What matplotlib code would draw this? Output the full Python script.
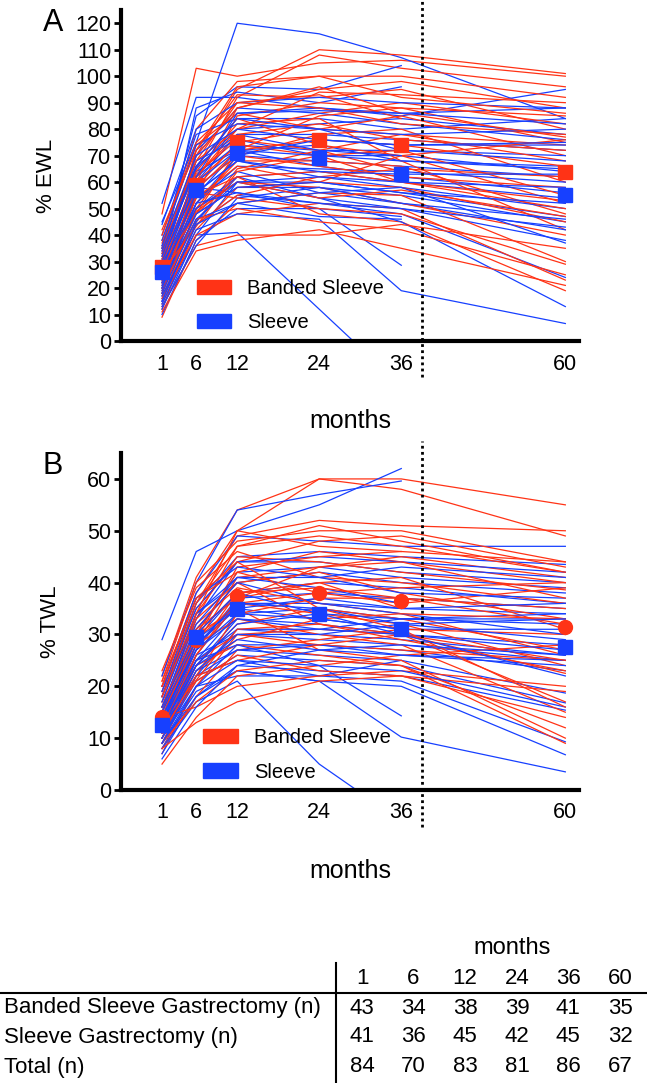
import numpy as np
import matplotlib.pyplot as plt
from matplotlib.patches import Patch
from matplotlib.lines import Line2D

plt.rcParams['font.family'] = ['Liberation Sans', 'DejaVu Sans']

months = [1, 6, 12, 24, 36, 60]
nan = np.nan

# % EWL, one row per patient: months 1, 6, 12, 24, 36, 60
ewl_banded = [
    [48, 103, 100, 105, 106, 100], [30, 70, 95, 110, 108, 101], [25, 65, 92, 108, 103, 96],
    [35, 80, 98, 100, 100, 92], [22, 60, 88, 95, 98, 88], [28, 72, 93, 92, 95, 80],
    [18, 55, 85, 90, 88, 75], [32, 68, 80, 86, 90, 82], [20, 58, 75, 80, 85, 70],
    [40, 75, 90, 88, 82, 78], [15, 50, 70, 78, 80, 60], [27, 62, 78, 82, 76, 72],
    [24, 57, 72, 76, 74, 66], [33, 66, 84, 74, 70, 52], [12, 45, 65, 72, 78, 68],
    [29, 60, 74, 70, 72, 55], [19, 52, 68, 68, 66, 48], [36, 64, 82, 84, 68, 42],
    [26, 58, 70, 66, 62, 58], [21, 48, 62, 64, 60, 50], [14, 42, 58, 60, 58, 45],
    [9, 38, 52, 56, 55, 30], [17, 44, 55, 62, 65, 62], [23, 50, 60, 58, 52, 40],
    [30, 63, 76, 72, 64, nan], [38, 74, 86, 80, 78, 74], [16, 40, 48, 52, 50, 23],
    [25, 55, 62, 48, 45, 19], [20, 46, 50, 45, 42, 25], [13, 36, 40, 40, 44, 35],
    [31, 62, 80, 94, 93, 90], [28, nan, 72, 85, 88, 85], [34, 70, 88, 96, 86, 77],
    [22, 54, 66, 60, 70, 76], [18, 49, 60, 54, 57, 47], [37, 68, 90, 93, 84, nan],
    [26, nan, 64, 70, 60, 53], [42, 72, 96, 100, 92, 86], [24, 56, 54, 50, 48, 29],
    [11, 34, 38, 42, nan, 21],
]
ewl_sleeve = [
    [45, 75, 120, 116, 107, 84], [52, 92, 92, 88, 85, 95], [35, 85, 96, 95, 104, nan],
    [30, 88, 94, 90, 96, nan], [28, 72, 86, 88, 86, 88], [40, 78, 84, 84, 80, 84],
    [25, 65, 80, 82, 84, 78], [33, 70, 88, 86, 82, 76], [22, 60, 78, 78, 76, 72],
    [27, 62, 74, 72, 72, 70], [18, 55, 72, 74, 68, 66], [30, 68, 76, 70, 70, 64],
    [24, 58, 70, 68, 66, 62], [20, 52, 66, 65, 64, 60], [35, 64, 72, 66, 62, 56],
    [15, 45, 62, 64, 60, 54], [26, 56, 68, 62, 58, 50], [12, 40, 60, 60, 56, 47],
    [19, 48, 58, 58, 55, 45], [29, 54, 64, 56, 52, 42], [23, 50, 62, 54, 50, 38],
    [16, 44, 55, 52, 48, 24], [10, 38, 50, 50, 47, nan], [21, 46, 52, 47, 46, nan],
    [14, 40, 41, 12, -17, nan], [31, 58, 56, 50, 28.6, nan], [17, 42, 48, 46, 19, 6.6],
    [25, 50, 60, 54, 45, 13], [38, 74, 82, 80, 78, 80], [20, 52, 70, 76, 74, 74],
    [44, 80, 90, 92, 90, 88], [32, 66, 84, 80, 72, 68], [27, 60, 72, 70, 68, 65],
    [13, 36, 54, 58, 52, 46], [22, 48, 58, 60, 56, 52], [36, 70, 80, 76, 74, 75],
    [18, 46, 60, 62, 60, 58], [30, 62, 86, 87, 86, 82], [24, 56, 68, 64, 63, 63],
    [15, 44, 52, 56, 58, 37], [34, 66, 78, 72, 70, nan], [26, 52, 56, 52, 50, 43],
]

# % TWL
twl_banded = [
    [22, 41, 54, 60, 60, 55], [20, 38, 50, 60, 58, 49], [18, 36, 49, 52, 51, 50],
    [21, 40, 48, 50, 50, 44], [15, 33, 47, 51, 48, 42], [19, 35, 44, 48, 49, 43],
    [14, 30, 42, 46, 44, 40], [17, 34, 45, 44, 42, 38.6], [12, 28, 41, 43, 45, 41],
    [23, 39, 46, 41, 40, 36], [16, 31, 40, 42, 38, 33], [13, 27, 38, 40, 41, 31],
    [11, 26, 36, 38, 36, 39], [20, 32, 39, 36, 34, 26], [9, 22, 34, 37, 37, 35],
    [14, 29, 36, 34, 32, 24], [18, 33, 40, 32, 30, 22.5], [10, 24, 32, 35, 33, 27],
    [7, 20, 30, 31, 30, 17], [15, 28, 33, 30, 28, 15], [12, 25, 30, 28, 27, 25],
    [8, 18, 27, 29, 31, 30], [13, 24, 28, 26, 24, 12], [16, 30, 35, 27, 25, 10],
    [5, 14, 22, 24, 26, 28], [11, 21, 26, 23, 22, 14], [9, 17, 23, 25, 24, 9],
    [14, 16, 20, 22, 23, 20], [19, 36, 47, 49, 47, 42], [17, nan, 43, 45, 46, 44],
    [12, 26, 37, 40, 35, nan], [21, 37, 42, 38, 39, 40], [10, 23, 29, 33, 34, 33],
    [15, 30, 38, 39, 37, 32], [8, 13, 17, 21, 22, 19], [13, nan, 31, 32, 29, 23],
    [18, 34, 50, 47, 46, nan], [11, 22, 25, 28, 30, 25], [16, 31, 37, 43, 44, 37],
    [20, 37, 44, 35, 31, 16],
]
twl_sleeve = [
    [29, 46, 50, 55, 62, nan], [22, 40, 54, 57, 59.6, nan], [20, 38, 49, 48, 47, 47],
    [18, 36, 45, 46, 45, 43.5], [16, 33, 44, 44, 42, 40], [14, 30, 42, 43, 41, 39],
    [15, 34, 40, 42, 40, 38], [13, 29, 38, 40, 39, 36], [12, 27, 37, 38, 37, 35],
    [11, 26, 36, 36, 35, 34], [10, 25, 34, 35, 33, 33], [14, 28, 35, 33, 31, 31],
    [12, 24, 33, 32, 30, 28], [9, 22, 31, 30, 29, 26], [13, 26, 30, 29, 28, 25],
    [8, 20, 28, 28, 27, 23], [11, 23, 27, 26, 25, 18.7], [10, 21, 26, 25, 24, 16.8],
    [7, 18, 24, 23, 22, 15.4], [12, 22, 25, 22, 21, 9.3], [9, 19, 23, 21, 20, 6.8],
    [8, 17, 21, 5, -6, nan], [10, 20, 22, 22, 25, nan], [13, 25, 28, 24, 14.3, nan],
    [9, 18, 23, 21, 10.2, 3.5], [16, 31, 40, 36, 34, 30], [18, 35, 44, 45, 44, 42],
    [15, 32, 41, 41, 38, 37], [11, 24, 32, 34, 33, 32], [14, 27, 33, 31, 33, 34],
    [12, 25, 31, 31, 30, 27], [17, 34, 41, 39, 36, nan], [10, 22, 27, 28, 26, 24],
    [6, 16, 24, 27, 26, 25], [13, 28, 36, 35, 32, 29], [19, 37, 43, 41, 43, 41],
    [11, 23, 30, 30, 32, 33], [15, 29, 35, 37, 35, 36], [9, 20, 25, 24, 23, 16],
    [14, 27, 34, 33, 31, nan], [12, 24, 29, 27, 28, 26], [16, 30, 38, 34, 30, 22],
]

# group means
ewl_banded_mean = [28, 59, 75, 76, 74, 64]
ewl_sleeve_mean = [26, 57, 71, 69, 63, 55]
twl_banded_mean = [14, 29, 37.5, 38, 36.5, 31.5]
twl_sleeve_mean = [12.5, 29.5, 35, 34, 31, 27.5]

# table of n per visit
table_rows = ['Banded Sleeve Gastrectomy (n)', 'Sleeve Gastrectomy (n)', 'Total (n)']
n_banded = [43, 34, 38, 39, 41, 35]
n_sleeve = [41, 36, 45, 42, 45, 32]
n_total = [84, 70, 83, 81, 86, 67]

RED = '#ff3316'
BLUE = '#1740ff'
W, H = 647, 1083


def px(x, y):
    return x / W, 1 - y / H


def draw_lines(ax, rows, color):
    for row in rows:
        arr = np.array(row, dtype=float)
        ok = ~np.isnan(arr)
        ax.plot(np.array(months)[ok], arr[ok], color=color, lw=0.9)


def panel(ax, banded, sleeve, m_banded, m_sleeve, ylim, yticks, ylabel, letter, red_marker,
          leg_xy, ylab_x):
    n = max(len(banded), len(sleeve))
    for i in range(n):
        if i < len(banded):
            draw_lines(ax, [banded[i]], RED)
        if i < len(sleeve):
            draw_lines(ax, [sleeve[i]], BLUE)
    ax.plot(months, m_banded, ls='none', marker=red_marker, ms=10, color=RED, zorder=5)
    ax.plot(months, m_sleeve, ls='none', marker='s', ms=10, color=BLUE, zorder=5)

    ax.set_xlim(-5, 62)
    ax.set_ylim(*ylim)
    ax.set_xticks(months)
    ax.set_yticks(yticks)
    ax.tick_params(axis='x', length=0, pad=9, labelsize=15.5)
    ax.tick_params(axis='y', length=5, width=2, pad=2, labelsize=15.5, direction='out')
    for s in ['top', 'right']:
        ax.spines[s].set_visible(False)
    for s in ['left', 'bottom']:
        ax.spines[s].set_linewidth(3)
    ax.set_ylabel(ylabel, fontsize=16)
    ax.yaxis.set_label_coords(ylab_x, 0.5)
    ax.set_xlabel('months', fontsize=18)
    ax.xaxis.set_label_coords(0.5, -0.205)
    ax.text(-0.149, 0.96, letter, transform=ax.transAxes, fontsize=22, ha='center', va='center')

    # dotted line at the end of 3 years
    ax.plot([39, 39], [-0.11, 1.035], transform=ax.get_xaxis_transform(), color='black',
            lw=2, ls=(0, (1, 1.2)), clip_on=False, zorder=6)

    handles = [Patch(facecolor=RED, edgecolor=RED), Patch(facecolor=BLUE, edgecolor=BLUE)]
    ax.legend(handles, ['Banded Sleeve', 'Sleeve'], loc='lower left', bbox_to_anchor=leg_xy,
              frameon=False, fontsize=14.5, handlelength=1.7, handleheight=0.7,
              handletextpad=0.8, labelspacing=0.75, borderpad=0, borderaxespad=0)


fig = plt.figure(figsize=(W / 100, H / 100), dpi=100)

l, b = px(121, 341)
ax1 = fig.add_axes([l, b, 458 / W, 331 / H])
panel(ax1, ewl_banded, ewl_sleeve, ewl_banded_mean, ewl_sleeve_mean,
      (0, 125), range(0, 121, 10), '% EWL', 'A', 's', (0.165, 0.027), -0.14)

l, b = px(121, 790)
ax2 = fig.add_axes([l, b, 458 / W, 337 / H])
panel(ax2, twl_banded, twl_sleeve, twl_banded_mean, twl_sleeve_mean,
      (0, 65), range(0, 61, 10), '% TWL', 'B', 'o', (0.18, 0.025), -0.132)

# table of patient numbers
col_x = [362, 413, 465, 517, 568, 620]
fig.text(*px(512, 948), 'months', fontsize=17, ha='center', va='center')
for x, m in zip(col_x, months):
    fig.text(*px(x, 979), str(m), fontsize=16, ha='center', va='center')
row_y = [1008, 1037, 1067]
for y, name, vals in zip(row_y, table_rows, [n_banded, n_sleeve, n_total]):
    fig.text(*px(4, y), name, fontsize=16, ha='left', va='center')
    for x, v in zip(col_x, vals):
        fig.text(*px(x, y), str(v), fontsize=16, ha='center', va='center')
fig.add_artist(Line2D([0, 1], [px(0, 993)[1]] * 2, color='black', lw=1.5))
fig.add_artist(Line2D([px(336, 0)[0]] * 2, [px(0, 963)[1], 0], color='black', lw=1.5))

fig.savefig('out.png', dpi=100)
